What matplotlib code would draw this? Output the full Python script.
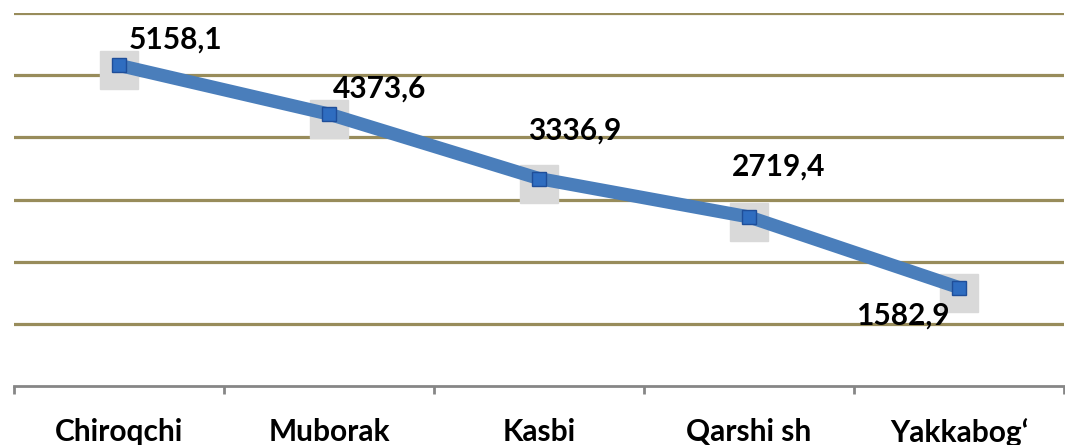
import matplotlib.pyplot as plt
import matplotlib.transforms as mtransforms

districts = ['Chiroqchi', 'Muborak', 'Kasbi', 'Qarshi sh', 'Yakkabog‘']
values = [5158.1, 4373.6, 3336.9, 2719.4, 1582.9]
labels = ['5158,1', '4373,6', '3336,9', '2719,4', '1582,9']
# label offsets in pixels (dx, dy) relative to each point
offsets = [(56, 26), (51, 26), (36, 48), (30, 50), (-56, -28)]

plt.rcParams['font.family'] = ['Lato', 'DejaVu Sans']

fig = plt.figure(figsize=(10.65, 4.45), dpi=100)
ax = fig.add_axes([14 / 1065, 1 - 386 / 445, 1050 / 1065, 373 / 445])

x = list(range(len(districts)))

# gridlines
for g in range(1000, 7000, 1000):
    ax.axhline(g, color='#988C5B', linewidth=2.3, zorder=1)

# marker shadow boxes
shadow = mtransforms.offset_copy(ax.transData, fig=fig, x=0, y=-5, units='dots')
ax.plot(x, values, linestyle='none', marker='s', markersize=27,
        color='#D9D9D9', transform=shadow, zorder=2)

ax.plot(x, values, color='#4A7EBB', linewidth=9.5, zorder=3,
        solid_capstyle='butt')
ax.plot(x, values, linestyle='none', marker='s', markersize=10.5,
        markerfacecolor='#2F6DC0', markeredgecolor='#1F4E99',
        markeredgewidth=1, zorder=4)

for xi, v, lab, (dx, dy) in zip(x, values, labels, offsets):
    ax.annotate(lab, (xi, v), xytext=(dx * 0.72, dy * 0.72),
                textcoords='offset points', ha='center', va='center',
                fontsize=21.5, fontweight='bold', color='black', zorder=5)

ax.set_xlim(-0.5, len(districts) - 0.5)
ax.set_ylim(0, 6000)

for side in ['left', 'right', 'top']:
    ax.spines[side].set_visible(False)
ax.spines['bottom'].set_color('#868686')
ax.spines['bottom'].set_linewidth(2)

ax.set_yticks([])
ax.set_xticks(x)
ax.set_xticklabels(districts, fontsize=21.5, fontweight='bold')
ax.tick_params(axis='x', which='major', length=0, pad=23)
ax.set_xticks([i - 0.5 for i in range(len(districts) + 1)], minor=True)
ax.tick_params(axis='x', which='minor', length=6, width=2, color='#868686')

fig.savefig('out.png', dpi=100)
